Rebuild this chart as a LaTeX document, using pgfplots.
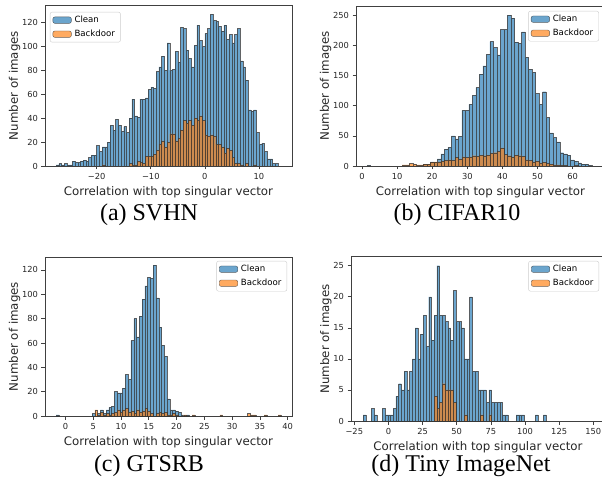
\documentclass[border=0pt]{standalone}
\usepackage{fontspec}
\setmainfont{DejaVu Sans}
\newfontfamily\capfont{Liberation Serif}
\usepackage{pgfplots}
\pgfplotsset{compat=1.18}

\definecolor{cblue}{RGB}{31,119,180}
\definecolor{corange}{RGB}{255,127,14}
\newcommand\tickfont{\fontsize{8.3}{9}\selectfont}
\newcommand\labfont{\fontsize{11.8}{13}\selectfont}
\newcommand\legfont{\fontsize{8.6}{10}\selectfont}
\newcommand\cfont{\capfont\fontsize{24}{26}\selectfont}

\pgfplotsset{
  hist/.style={
    scale only axis, anchor=south west,
    ybar, bar shift=0pt, ymin=0,
    axis line style={black!75, line width=0.6pt},
    tick align=outside, tick pos=left,
    major tick length=3.5pt,
    tick style={black!75, line width=0.6pt},
    tick label style={font=\tickfont, text=black!85},
    /pgf/number format/assume math mode=true,
    label style={font=\labfont, text=black!85},
    xlabel={Correlation with top singular vector},
    ylabel={Number of images},
    ylabel style={yshift=-5pt},
    legend cell align=left,
    legend style={font=\legfont, draw=black!20, rounded corners=2pt, fill=white,
      inner xsep=2.5pt, inner ysep=2.5pt, row sep=3pt,
      nodes={inner xsep=3pt, inner ysep=1.5pt}},
  },
  clean/.style={fill=cblue, draw=black!80, fill opacity=0.66, draw opacity=0.75,
    line width=0.4pt,
    legend image code/.code={\draw[##1] (0pt,-3.2pt) rectangle (18.5pt,3.2pt);}},
  back/.style={fill=corange, draw=black!80, fill opacity=0.66, draw opacity=0.75,
    line width=0.4pt,
    legend image code/.code={\draw[##1] (0pt,-3.2pt) rectangle (18.5pt,3.2pt);}},
}

\begin{document}
\begin{tikzpicture}
\useasboundingbox (0,0) rectangle (602pt,477pt);

% (a) SVHN
\begin{axis}[hist, at={(45pt,311pt)}, width=247pt, height=161pt,
  xmin=-29.55, xmax=16.1, ymax=134.8, bar width=0.5,
  xtick={-20,-10,0,10}, xticklabels={−20,−10,0,10},
  ytick={0,20,...,120},
  legend style={at={(0.02,0.957)}, anchor=north west}]
\addplot[clean] coordinates {
(-27.25,1) (-26.75,2) (-26.25,1) (-25.75,2) (-25.25,1) (-24.75,1) (-24.25,4) (-23.75,3)
(-23.25,3) (-22.75,4) (-22.25,5) (-21.75,4) (-21.25,7) (-20.75,9) (-20.25,9) (-19.75,17)
(-19.25,12) (-18.75,16) (-18.25,16) (-17.75,20) (-17.25,34) (-16.75,30) (-16.25,39) (-15.75,34)
(-15.25,29) (-14.75,33) (-14.25,28) (-13.75,40) (-13.25,56) (-12.75,42) (-12.25,41) (-11.75,56)
(-11.25,56) (-10.75,57) (-10.25,64) (-9.75,66) (-9.25,65) (-8.75,79) (-8.25,83) (-7.75,92)
(-7.25,80) (-6.75,103) (-6.25,80) (-5.75,81) (-5.25,96) (-4.75,87) (-4.25,116) (-3.75,115)
(-3.25,97) (-2.75,90) (-2.25,83) (-1.75,101) (-1.25,118) (-0.75,105) (-0.25,100) (0.25,111)
(0.75,115) (1.25,127) (1.75,122) (2.25,121) (2.75,117) (3.25,113) (3.75,118) (4.25,106)
(4.75,110) (5.25,103) (5.75,110) (6.25,115) (6.75,88) (7.25,83) (7.75,72) (8.25,47)
(8.75,46) (9.25,47) (9.75,28) (10.25,18) (10.75,19) (11.25,12) (11.75,6) (12.25,6)
(12.75,2) (13.25,2)
};
\addlegendentry{Clean}
\addplot[back] coordinates {
(-18.75,1) (-13.75,2) (-13.25,1) (-12.75,1) (-12.25,4) (-11.75,3) (-11.25,2) (-10.75,8)
(-10.25,8) (-9.75,8) (-9.25,10) (-8.75,13) (-8.25,18) (-7.75,21) (-7.25,16) (-6.75,20)
(-6.25,27) (-5.75,27) (-5.25,21) (-4.75,23) (-4.25,30) (-3.75,38) (-3.25,36) (-2.75,38)
(-2.25,34) (-1.75,40) (-1.25,38) (-0.75,42) (-0.25,38) (0.25,26) (0.75,25) (1.25,26)
(1.75,25) (2.25,18) (2.75,18) (3.25,16) (3.75,11) (4.25,15) (4.75,13) (5.25,7)
(5.75,2) (6.25,2) (6.75,1) (7.75,2) (9.25,1)
};
\addlegendentry{Backdoor}
\end{axis}

% (b) CIFAR10
\begin{axis}[hist, at={(356pt,311pt)}, width=248.9pt, height=160pt,
  xmin=-1.7, xmax=69.2, ymax=265, bar width=1,
  xtick={0,10,...,60}, ytick={0,50,...,250},
  legend style={at={(0.976,0.969)}, anchor=north east}]
\addplot[clean] coordinates {
(1.95,1) (17.95,3) (18.95,3) (19.95,7) (20.95,6) (21.95,12) (22.95,20) (23.95,28)
(24.95,31) (25.95,50) (26.95,45) (27.95,49) (28.95,92) (29.95,92) (30.95,102) (31.95,117)
(32.95,130) (33.95,152) (34.95,166) (35.95,185) (36.95,206) (37.95,196) (38.95,184) (39.95,226)
(40.95,226) (41.95,250) (42.95,245) (43.95,205) (44.95,203) (45.95,222) (46.95,180) (47.95,160)
(48.95,155) (49.95,120) (50.95,102) (51.95,123) (52.95,80) (53.95,55) (54.95,47) (55.95,40)
(56.95,22) (57.95,20) (58.95,18) (59.95,10) (60.95,8) (61.95,5) (62.95,3) (63.95,3)
(64.95,1)
};
\addlegendentry{Clean}
\addplot[back] coordinates {
(11.95,2) (12.95,2) (13.95,4) (14.95,3) (15.95,2) (16.95,2) (17.95,3) (18.95,3)
(19.95,6) (20.95,7) (21.95,7) (22.95,8) (23.95,9) (24.95,10) (25.95,9) (26.95,14)
(27.95,11) (28.95,15) (29.95,14) (30.95,15) (31.95,17) (32.95,16) (33.95,18) (34.95,17)
(35.95,18) (36.95,21) (37.95,22) (38.95,24) (39.95,30) (40.95,19) (41.95,17) (42.95,15)
(43.95,18) (44.95,17) (45.95,16) (46.95,10) (47.95,9) (48.95,7) (49.95,8) (50.95,5)
(51.95,6) (52.95,4) (53.95,3) (54.95,2) (55.95,2) (56.95,1) (57.95,1) (60.95,1)
};
\addlegendentry{Backdoor}
\end{axis}

% (c) GTSRB
\begin{axis}[hist, at={(45pt,61pt)}, width=247pt, height=158.7pt,
  xmin=-3.69, xmax=40.8, ymax=130.4, bar width=0.5,
  xtick={0,5,...,40}, ytick={0,20,...,120},
  legend style={at={(0.98,0.977)}, anchor=north east}]
\addplot[clean] coordinates {
(-1.45,1) (5.05,2) (6.05,2) (6.55,5) (7.05,2) (7.55,5) (8.05,7) (8.55,8)
(9.05,20) (9.55,19) (10.05,19) (10.55,23) (11.05,34) (11.55,30) (12.05,62) (12.55,80)
(13.05,65) (13.55,82) (14.05,96) (14.55,107) (15.05,114) (15.55,113) (16.05,124) (16.55,97)
(17.05,73) (17.55,58) (18.05,49) (18.55,14) (19.05,5) (19.55,5) (20.05,4) (20.55,3)
(21.05,1) (22.05,1)
};
\addlegendentry{Clean}
\addplot[back] coordinates {
(5.55,5) (6.05,1) (6.55,3) (7.05,1) (7.55,2) (8.05,1) (8.55,2) (9.05,3)
(9.55,5) (10.05,3) (10.55,5) (11.05,6) (11.55,3) (12.05,4) (12.55,2) (13.05,5)
(13.55,3) (14.05,4) (14.55,6) (15.05,4) (15.55,2) (16.55,2) (17.05,3) (17.55,2)
(18.05,3) (18.55,1) (19.05,1) (19.55,2) (20.05,1) (21.55,1) (23.05,1) (28.05,1)
(33.05,2) (33.55,1) (34.05,1) (36.05,1) (38.55,1)
};
\addlegendentry{Backdoor}
\end{axis}

% (d) Tiny ImageNet
\begin{axis}[hist, at={(351pt,56pt)}, width=253.9pt, height=164.3pt,
  xmin=-27.4, xmax=158.5, ymax=26.45, bar width=2,
  xtick={-25,0,...,150}, xticklabels={−25,0,25,50,75,100,125,150},
  ytick={0,5,...,25},
  legend style={at={(0.977,0.974)}, anchor=north east}]
\addplot[clean] coordinates {
(-17.5,1) (-11.5,2) (-9.5,1) (-3.5,2) (-1.5,1) (0.5,1) (2.5,1) (4.5,2)
(6.5,4) (8.5,6) (10.5,5) (12.5,8) (14.5,5) (16.5,8) (18.5,10) (20.5,15)
(22.5,10) (24.5,14) (26.5,17) (28.5,12) (30.5,20) (32.5,13) (34.5,17) (36.5,25)
(38.5,17) (40.5,17) (42.5,16) (44.5,15) (46.5,13) (48.5,21) (50.5,16) (52.5,16)
(54.5,15) (56.5,10) (58.5,10) (60.5,20) (62.5,8) (64.5,8) (66.5,5) (68.5,5)
(70.5,5) (72.5,3) (74.5,5) (76.5,3) (78.5,3) (80.5,3) (82.5,3) (84.5,1)
(86.5,1) (94.5,1) (96.5,1) (98.5,1) (108.5,1) (114.5,1)
};
\addlegendentry{Clean}
\addplot[back] coordinates {
(34.5,4) (36.5,2) (38.5,3) (40.5,6) (42.5,5) (44.5,5) (46.5,5) (48.5,3)
(56.5,1) (68.5,1) (74.5,1)
};
\addlegendentry{Backdoor}
\end{axis}

\node[anchor=base, font=\cfont] at (149pt,256pt) {(a) SVHN};
\node[anchor=base, font=\cfont] at (457pt,256pt) {(b) CIFAR10};
\node[anchor=base, font=\cfont] at (149pt,6pt) {(c) GTSRB};
\node[anchor=base, font=\cfont] at (461pt,6pt) {(d) Tiny ImageNet};
\end{tikzpicture}
\end{document}
